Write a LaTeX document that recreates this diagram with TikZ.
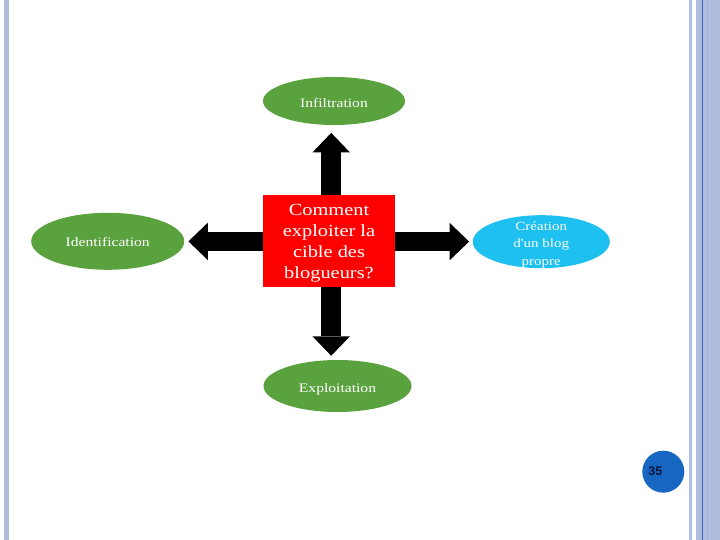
\documentclass[tikz,border=0pt]{standalone}
\usepackage{fontspec}
\setmainfont{Liberation Serif}
\newfontfamily\slidefont[FakeStretch=1.2]{Liberation Serif}
\newfontfamily\numfont{Liberation Sans}
\usetikzlibrary{arrows.meta,shapes.geometric,calc}
\definecolor{barblue}{RGB}{175,188,222}
\definecolor{bardark}{RGB}{160,176,214}
\definecolor{barline}{RGB}{62,100,190}
\definecolor{ellgreen}{RGB}{90,162,62}
\definecolor{ellcyan}{RGB}{30,192,240}
\definecolor{boxred}{RGB}{255,0,0}
\definecolor{circblue}{RGB}{22,102,194}
\definecolor{numtextc}{RGB}{10,22,60}
\begin{document}
\begin{tikzpicture}[x=1pt,y=1pt,
  ell/.style={ellipse, draw=none, inner sep=0pt},
  elltext/.style={text=white, inner sep=0pt,
    font=\slidefont\fontsize{13}{16}\selectfont},
  ellbl/.style={text=white, align=center, inner sep=0pt,
    font=\slidefont\fontsize{12.5}{17.5}\selectfont},
  redbox/.style={rectangle, fill=boxred, draw=none, inner sep=0pt,
    minimum width=132pt, minimum height=92pt},
  boxtext/.style={text=white, align=center, inner sep=0pt,
    font=\slidefont\fontsize{17}{21}\selectfont},
  bigarrow/.style={draw=black, line width=19.5pt,
    -{Triangle[length=19.5pt, width=37.5pt, line width=0pt]}},
  numcirc/.style={circle, fill=circblue, draw=none, minimum size=42pt, inner sep=0pt},
  numtext/.style={inner sep=0pt, text=numtextc, font=\numfont\bfseries\fontsize{12.5}{14}\selectfont}
]
\useasboundingbox (0,0) rectangle (720,540);
\fill[white] (0,0) rectangle (720,540);
% slide decoration bars
\fill[barblue] (3.7,0) rectangle (9,540);
\fill[barblue] (689,0) rectangle (692,540);
\fill[barblue] (696,0) rectangle (720,540);
\fill[bardark] (706.5,0) rectangle (708,540);
\fill[barline] (701.6,0) rectangle (702.8,540);

% nodes
\node[ell, fill=ellgreen, minimum width=142pt, minimum height=48pt] (inf) at (334,439) {};
\node[elltext] (inflbl) at ([yshift=-2pt]inf.center) {Infiltration};
\node[ell, fill=ellgreen, minimum width=153pt, minimum height=57pt] (ident) at (107.7,298.7) {};
\node[elltext] (identlbl) at ([yshift=-1pt]ident.center) {Identification};
\node[ell, fill=ellcyan, minimum width=137pt, minimum height=53pt] (crea) at (541.3,298.3) {};
\node[ellbl] (crealbl) at ([yshift=-3pt]crea.center) {Création\\d'un blog\\propre};
\node[ell, fill=ellgreen, minimum width=148pt, minimum height=52pt] (expl) at (337.5,154) {};
\node[elltext] (expllbl) at ([yshift=-3.5pt]expl.center) {Exploitation};
\node[redbox] (box) at (329,299) {};
\node[boxtext] (boxlbl) at ([yshift=-2.5pt]box.center) {Comment\\exploiter la\\cible des\\blogueurs?};

% arrows
\draw[bigarrow] ([xshift=2.2pt]box.north) -- ($(box.north |- inf.south)+(2.2,-7.7)$);
\draw[bigarrow] ([xshift=2.2pt]box.south) -- ($(box.south |- expl.north)+(2.2,4)$);
\draw[bigarrow] ([yshift=-0.4pt]box.west) -- ($(ident.east |- box.west)+(4,-0.4)$);
\draw[bigarrow] ([yshift=-0.6pt]box.east) -- ($(crea.west |- box.east)+(-3.5,-0.6)$);

% page number
\node[numcirc] (num) at (663.3,68.3) {};
\node[numtext] (numlbl) at (655.3,68.5) {35};
\end{tikzpicture}
\end{document}
